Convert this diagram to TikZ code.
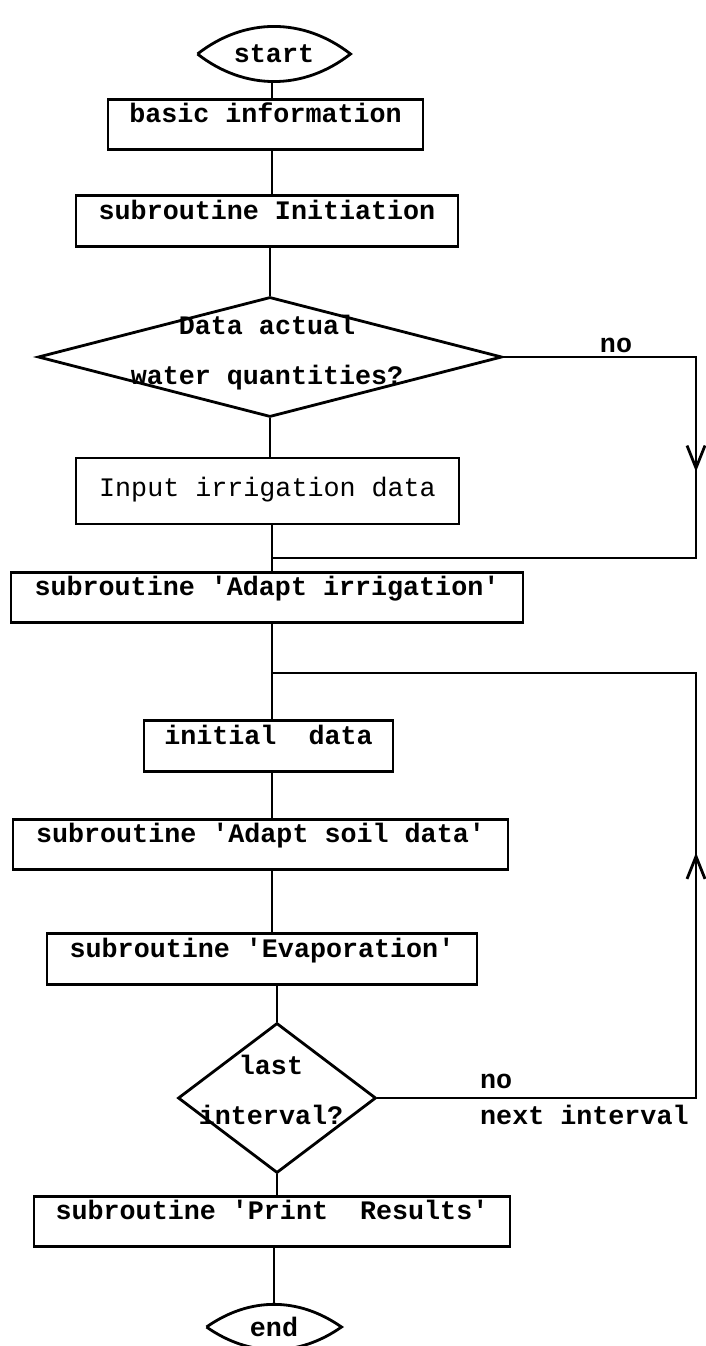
\documentclass[tikz,border=0pt]{standalone}
\usepackage{fontspec}
\setmonofont{Liberation Mono}
\usepackage{tikz}
\usetikzlibrary{shapes.geometric, arrows.meta, decorations.markings}

\begin{document}
\begin{tikzpicture}[x=0.2mm, y=-0.2mm,
    every node/.style={font=\ttfamily\bfseries\fontsize{15.2}{18}\selectfont},
    procbox/.style={draw, line width=1.6pt, inner sep=0pt, text height=0.47cm, text depth=0.54cm},
    lens/.style={inner sep=0pt, outer sep=0pt},
    decision/.style={draw, diamond, line width=1.6pt, inner sep=0pt},
    twoline/.style={align=center, font=\ttfamily\bfseries\fontsize{15.2}{28.5}\selectfont},
    flow/.style={line width=1.6pt},
    midbarb/.style={postaction={decorate}, decoration={markings,
      mark=at position #1 with {\arrow{Straight Barb[length=0.45cm, width=0.36cm]}}}}
  ]
  \useasboundingbox (0,0) rectangle (705,1346);
  \coordinate (axis) at (272,0);

  % Start
  \node[lens, minimum width=3.06cm, minimum height=1.12cm] (start) at (274,54) {start};
  \draw[flow] (start.west) to[bend left=38] (start.east) to[bend left=38] (start.west);

  % Preparation
  \node[procbox, minimum width=6.3cm] (basic) at (265.5,124.5) {basic information};
  \node[procbox, minimum width=7.64cm] (init) at (267,221) {subroutine Initiation};

  % Question on the water quantities
  \node[decision, minimum width=9.28cm, minimum height=2.4cm] (wq) at (270,357) {};
  \node[twoline] (wqtext) at (267,353) {Data actual\\water quantities?};
  \node (no1) at (616,345) {no};

  \node[procbox, minimum width=7.66cm, text height=0.76cm, text depth=0.56cm,
    font=\ttfamily\fontsize{15.2}{18}\selectfont] (input) at (267.5,491) {Input irrigation data};
  \node[procbox, minimum width=10.24cm] (adapt) at (267,597.5) {subroutine 'Adapt irrigation'};

  % Loop over the intervals
  \node[procbox, minimum width=4.98cm] (initial) at (268.5,746) {initial~~data};
  \node[procbox, minimum width=9.9cm] (soil) at (260.5,844.5) {subroutine 'Adapt soil data'};
  \node[procbox, minimum width=8.6cm] (evap) at (262,959) {subroutine 'Evaporation'};

  \node[decision, minimum width=3.96cm, minimum height=3.0cm] (last) at (277,1098) {};
  \node[twoline] (lasttext) at (271,1090) {last\\interval?};
  \node[anchor=west] (no2) at (474,1081) {no};
  \node[anchor=west] (next) at (474,1115) {next interval};

  % End
  \node[procbox, minimum width=9.52cm] (print) at (272,1221.5) {subroutine 'Print~~Results'};
  \node[lens, minimum width=2.7cm, minimum height=0.92cm] (end) at (274,1327) {end};
  \draw[flow] (end.west) to[bend left=35] (end.east) to[bend left=35] (end.west);

  % Connections
  \draw[flow] (start.south -| axis) -- (basic.north -| axis);
  \draw[flow] (basic.south -| axis) -- (init.north -| axis);
  \draw[flow] (init.south -| wq) -- (wq.north);
  \draw[flow] (wq.south) -- (input.north -| wq);
  \draw[flow] (input.south -| axis) -- (adapt.north -| axis);
  \draw[flow] (adapt.south -| axis) -- (initial.north -| axis);
  \draw[flow] (initial.south -| axis) -- (soil.north -| axis);
  \draw[flow] (soil.south -| axis) -- (evap.north -| axis);
  \draw[flow] (evap.south -| last) -- (last.north);
  \draw[flow] (last.south) -- (print.north -| last);
  \draw[flow] (print.south -| end) -- (end.north);

  % no: skip the input
  \coordinate (skipA) at (696,357);
  \coordinate (skipB) at (696,558);
  \coordinate (skipC) at (272,558);
  \draw[flow, midbarb=0.376] (wq.east) -- (skipA) -- (skipB) -- (skipC);

  % no: next interval
  \coordinate (loopA) at (696,1098);
  \coordinate (loopB) at (696,673);
  \coordinate (loopC) at (272,673);
  \draw[flow, midbarb=0.483] (last.east) -- (loopA) -- (loopB) -- (loopC);
\end{tikzpicture}
\end{document}
